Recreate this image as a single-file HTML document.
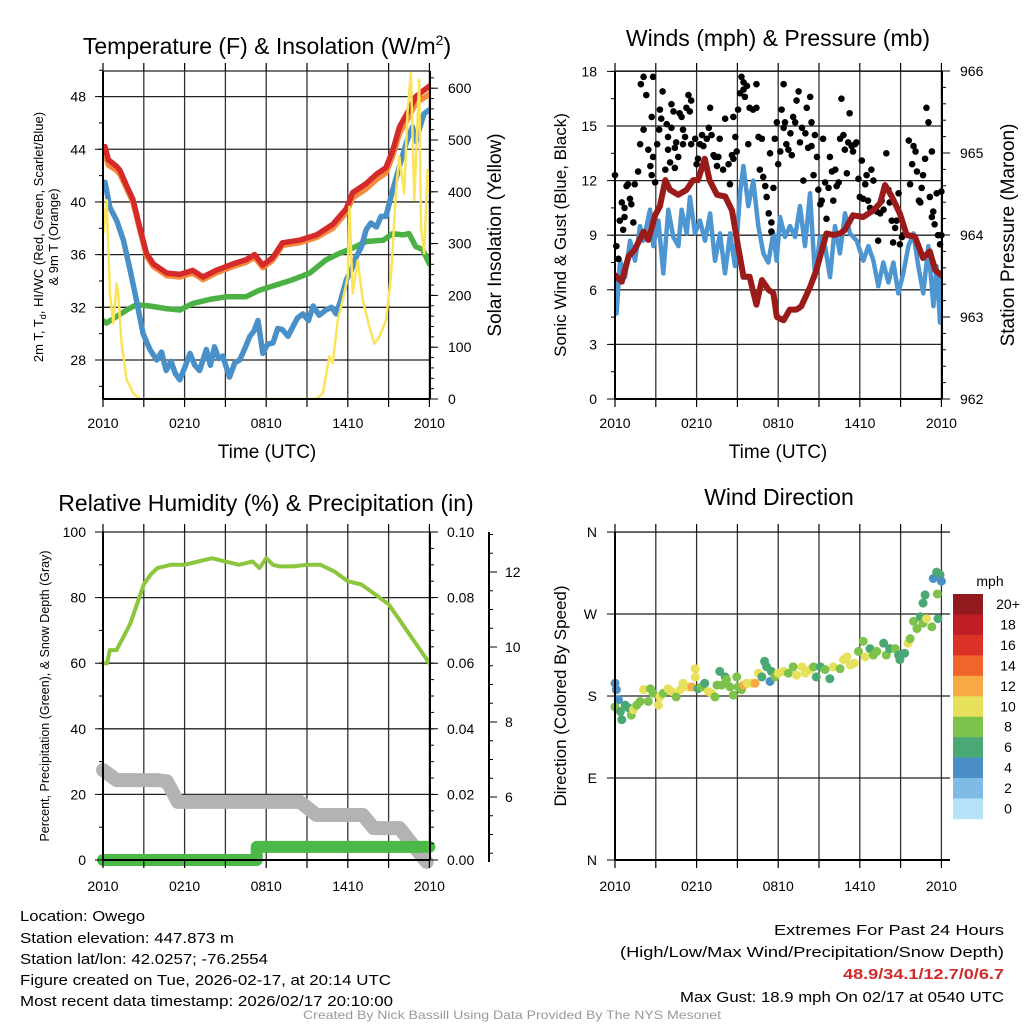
<!DOCTYPE html>
<html><head><meta charset="utf-8"><style>
html,body{margin:0;padding:0;background:#fff;}
svg{display:block;font-family:"Liberation Sans",Arial,sans-serif;}
</style></head><body>
<svg id="chart" xmlns="http://www.w3.org/2000/svg" width="1024" height="1024" viewBox="0 0 1024 1024">
<rect width="1024" height="1024" fill="#fff"/>
<defs>
<clipPath id="c1"><rect x="103" y="71" width="327" height="329"/></clipPath>
<clipPath id="c2"><rect x="615" y="71" width="328" height="329"/></clipPath>
<clipPath id="c3"><rect x="96" y="525" width="341" height="345"/></clipPath>
<clipPath id="c4"><rect x="608" y="526" width="342" height="340"/></clipPath>
</defs>
<g id="grid"></g>
<g id="series"></g>
<g id="axes"></g>

<text x="267" y="54" font-size="23" text-anchor="middle">Temperature (F) &amp; Insolation (W/m<tspan font-size="14" dy="-9">2</tspan><tspan dy="9">)</tspan></text>
<text x="778" y="46" font-size="23" text-anchor="middle">Winds (mph) &amp; Pressure (mb)</text>
<text x="266" y="511" font-size="23" text-anchor="middle">Relative Humidity (%) &amp; Precipitation (in)</text>
<text x="779" y="505" font-size="23" text-anchor="middle">Wind Direction</text>

<text x="267" y="458" font-size="19" text-anchor="middle">Time (UTC)</text>
<text x="778" y="458" font-size="19" text-anchor="middle">Time (UTC)</text>

<text transform="translate(43,237) rotate(-90)" font-size="13" text-anchor="middle">2m T, T<tspan font-size="9" dy="3">d</tspan><tspan dy="-3">, HI/WC (Red, Green, Scarlet/Blue)</tspan></text>
<text transform="translate(58,237) rotate(-90)" font-size="13" text-anchor="middle">&amp; 9m T (Orange)</text>
<text transform="translate(501,235) rotate(-90)" font-size="19" text-anchor="middle">Solar Insolation (Yellow)</text>
<text transform="translate(566,235) rotate(-90)" font-size="17" text-anchor="middle">Sonic Wind &amp; Gust (Blue, Black)</text>
<text transform="translate(1014,235) rotate(-90)" font-size="19" text-anchor="middle">Station Pressure (Maroon)</text>
<text transform="translate(49,696) rotate(-90)" font-size="12.5" text-anchor="middle">Percent, Precipitation (Green), &amp; Snow Depth (Gray)</text>
<text transform="translate(566,696) rotate(-90)" font-size="17" text-anchor="middle">Direction (Colored By Speed)</text>

<text x="990" y="586" font-size="14" text-anchor="middle">mph</text>
<g id="cbar"></g>

<g font-size="15">
<text x="20" y="921" textLength="125" lengthAdjust="spacingAndGlyphs">Location: Owego</text>
<text x="20" y="943" textLength="214" lengthAdjust="spacingAndGlyphs">Station elevation: 447.873 m</text>
<text x="20" y="964" textLength="248" lengthAdjust="spacingAndGlyphs">Station lat/lon: 42.0257; -76.2554</text>
<text x="20" y="985" textLength="371" lengthAdjust="spacingAndGlyphs">Figure created on Tue, 2026-02-17, at 20:14 UTC</text>
<text x="20" y="1006" textLength="373" lengthAdjust="spacingAndGlyphs">Most recent data timestamp: 2026/02/17 20:10:00</text>
</g>
<g font-size="15">
<text x="774" y="935" textLength="230" lengthAdjust="spacingAndGlyphs">Extremes For Past 24 Hours</text>
<text x="620" y="957" textLength="384" lengthAdjust="spacingAndGlyphs">(High/Low/Max Wind/Precipitation/Snow Depth)</text>
<text x="843" y="979" textLength="161" lengthAdjust="spacingAndGlyphs" font-weight="bold" fill="#d12a2a">48.9/34.1/12.7/0/6.7</text>
<text x="680" y="1002" textLength="324" lengthAdjust="spacingAndGlyphs">Max Gust: 18.9 mph On 02/17 at 0540 UTC</text>
</g>
<text x="303" y="1019" font-size="12" fill="#999" textLength="418" lengthAdjust="spacingAndGlyphs">Created By Nick Bassill Using Data Provided By The NYS Mesonet</text>
</svg>
<script>
// ---------- Data ----------
const xTickLabels = ["2010","0210","0810","1410","2010"];
const xTickHours = [0,6,12,18,24];
// Temperature panel
const tempTicks = [28,32,36,40,44,48];
const solarTicks = [0,100,200,300,400,500,600];
const redHours = [0,0.15,0.4,1.0,1.25,1.75,2.2,2.7,3.2,3.7,4.7,5.65,6.6,7.35,8.3,9.55,10.5,11.15,11.75,12.5,13.2,14.45,15.7,16.9,17.9,18.35,19.35,20.1,20.8,21.3,21.8,22.5,23.0,23.75,24];
const redTemp = [44.1,44.2,43.2,42.7,42.4,41.2,40.2,38.1,36.1,35.3,34.6,34.5,34.8,34.3,34.8,35.3,35.6,36.0,35.2,35.8,36.9,37.1,37.5,38.3,39.5,40.7,41.4,42.1,42.6,43.9,45.7,47.0,48.0,48.6,48.8];
const orangeTemp = [43.4,43.6,42.8,42.4,42.1,41.0,40.0,37.9,35.9,35.1,34.4,34.3,34.6,34.1,34.6,35.1,35.4,35.8,35.0,35.6,36.7,36.9,37.3,38.0,39.2,40.3,41.0,41.7,42.2,43.5,45.2,46.5,47.5,48.0,48.2];
const blueHours = [0,0.15,0.5,1.0,1.5,2.0,2.45,2.95,3.45,3.95,4.3,4.65,5.0,5.3,5.65,6.0,6.4,6.75,7.1,7.35,7.6,7.9,8.2,8.5,8.8,9.3,9.7,10.05,10.4,10.8,11.1,11.4,11.75,12.1,12.5,12.85,13.2,13.6,13.95,14.3,14.7,15.1,15.45,15.9,16.4,16.8,17.15,17.5,17.9,18.25,18.6,19.0,19.35,19.7,20.1,20.45,20.8,21.3,21.8,22.3,22.75,23.0,23.25,23.6,24];
const blueTemp = [41.2,41.5,39.6,38.6,37.1,34.8,32.6,30.0,28.8,28.0,28.6,27.2,27.9,27.0,26.5,27.4,28.5,27.6,27.2,28.0,28.8,27.6,29.0,28.1,28.3,26.7,27.8,28.0,28.8,29.8,30.2,31.0,28.5,29.2,29.3,30.4,30.3,29.8,30.5,31.2,31.5,31.0,32.1,31.4,31.8,32.0,31.5,32.6,34.1,34.8,35.8,36.6,37.9,38.4,38.1,38.9,38.9,40.9,42.7,44.5,45.7,44.6,45.5,46.7,47.0];
const greenHours = [0,0.25,1.0,1.75,2.45,3.45,4.65,5.65,6.6,7.85,9.05,10.5,11.5,12.75,13.95,15.2,16.4,17.4,18.35,19.35,20.6,21.3,22.05,22.5,23.0,23.5,24];
const greenTemp = [31.0,30.8,31.3,31.8,32.2,32.1,31.9,31.8,32.3,32.6,32.8,32.8,33.3,33.7,34.1,34.6,35.6,36.1,36.5,37.0,37.1,37.6,37.5,37.6,36.6,36.4,35.3];
const solarHours = [0,0.03,0.27,0.51,0.76,1.0,1.12,1.37,1.74,2.22,2.71,15.67,16.16,16.65,16.89,17.26,17.63,17.99,18.12,18.36,18.73,19.1,19.58,19.95,20.32,20.81,21.17,21.54,21.78,22.15,22.4,22.64,22.89,23.25,23.38,23.62,23.86,24];
const solarVals = [384,320,384,204,146,223,204,107,37,11,0,0,11,82,69,152,191,236,371,204,268,191,140,107,120,152,236,397,469,397,558,629,384,616,333,281,442,397];
// Wind panel
const windTicks = [0,3,6,9,12,15,18];
const pressTicks = [962,963,964,965,966];
const sonicHours = [0,0.12,0.37,0.74,1.1,1.47,1.84,2.08,2.57,2.82,3.19,3.55,3.92,4.29,4.66,4.9,5.27,5.51,5.88,6.25,6.62,6.99,7.35,7.72,8.09,8.46,8.82,9.19,9.44,9.8,10.17,10.54,10.91,11.27,11.64,11.89,12.13,12.5,12.87,13.24,13.6,13.97,14.34,14.71,15.07,15.44,15.81,16.18,16.54,16.91,17.28,17.77,18.26,18.63,19.0,19.36,19.73,20.1,20.47,20.83,21.2,21.57,21.94,22.3,22.67,23.04,23.41,23.65,23.9,24];
const sonicVals = [6.7,4.7,7.6,6.7,8.7,7.6,9.5,8.7,10.4,8.4,9.8,6.9,10.4,8.9,8.4,10.4,9.1,11.1,9.1,9.8,8.7,10.2,7.6,9.1,6.9,9.1,7.3,11.3,12.8,10.6,12.0,9.5,8.0,7.5,9.1,7.6,10.0,8.9,9.5,8.9,10.6,8.4,11.3,6.7,8.9,8.4,6.7,9.5,8.0,10.2,9.1,8.7,7.6,8.4,7.6,6.2,7.5,6.4,7.5,5.8,6.9,8.4,9.1,7.3,5.8,8.4,5.1,7.3,4.2,6.7];
const pressHours = [0,0.5,1.0,1.45,2.1,2.45,2.95,3.3,3.7,4.05,4.65,5.25,5.75,6.1,6.6,6.95,7.5,8.1,8.6,9.05,9.45,9.9,10.4,10.8,11.3,11.65,11.9,12.4,12.85,13.35,13.7,14.35,14.8,15.55,16.05,16.55,16.9,17.5,18.25,19.0,19.5,19.85,20.35,20.95,21.45,22.05,22.65,23.15,23.55,24];
const pressVals = [963.51,963.43,963.74,963.82,964.04,963.94,964.24,964.35,964.67,964.55,964.49,964.55,964.67,964.67,964.93,964.67,964.49,964.47,964.30,963.86,963.49,963.49,963.15,963.45,963.33,963.29,963.0,962.96,963.09,963.09,963.13,963.37,963.57,964.02,964.0,964.02,964.06,964.24,964.22,964.30,964.39,964.61,964.47,964.26,964.0,963.98,963.72,963.8,963.57,963.51];
const gustHours = [0,0.1,0.25,0.35,0.5,0.6,0.7,0.7,0.85,0.95,1.1,1.2,1.35,1.45,1.7,1.85,1.9,2.1,2.1,2.3,2.45,2.6,2.7,2.7,2.8,2.8,2.95,3.1,3.25,3.3,3.4,3.5,3.7,3.8,3.9,3.9,4.05,4.15,4.15,4.3,4.4,4.4,4.5,4.65,4.75,4.9,5.0,5.0,5.15,5.25,5.4,5.5,5.6,5.6,5.9,6.0,6.1,6.25,6.4,6.5,6.75,6.9,7.0,7.1,7.25,7.35,7.5,7.6,7.7,7.95,8.1,8.35,8.45,8.6,8.7,8.7,8.85,8.95,9.05,9.2,9.3,9.45,9.45,9.55,9.7,9.8,9.9,10.15,10.4,10.4,10.55,10.65,10.8,10.9,11.05,11.15,11.3,11.4,11.5,11.5,11.65,11.75,11.9,12.0,12.15,12.25,12.4,12.4,12.5,12.6,12.75,12.9,13.0,13.1,13.25,13.35,13.5,13.6,13.75,13.85,14.0,14.1,14.2,14.35,14.45,14.45,14.6,14.7,14.85,14.95,15.1,15.2,15.3,15.45,15.55,15.7,15.8,15.95,16.05,16.2,16.3,16.45,16.55,16.65,16.8,16.9,17.05,17.15,17.25,17.4,17.5,17.65,17.75,17.9,18.0,18.15,18.25,18.4,18.5,18.6,18.75,18.85,19.0,19.25,19.35,19.5,19.6,19.75,19.95,20.1,20.2,20.35,20.45,20.6,20.7,20.85,20.95,21.1,21.2,21.6,21.7,21.85,21.95,22.1,22.2,22.35,22.45,22.55,22.65,22.8,22.9,23.05,23.15,23.3,23.3,23.4,23.5,23.65,23.75,23.9,24.0,24.0];
const gustVals = [12.3,8.4,7.7,9.8,10.8,9.3,10.0,10.5,11.7,11.8,11.0,10.7,9.7,11.8,12.5,14.0,17.3,17.7,14.8,16.7,13.7,12.8,12.3,15.5,17.7,13.3,11.9,14.0,14.8,15.9,15.4,16.9,12.6,15.1,13.7,14.4,13.0,16.2,14.9,15.8,12.7,13.8,14.1,13.3,15.7,15.5,14.8,14.0,14.4,16.0,16.7,15.8,16.4,14.0,14.3,12.9,13.2,14.0,14.5,13.9,14.3,14.9,16.0,14.5,13.4,13.3,12.8,13.3,14.3,12.6,15.4,12.9,11.8,13.4,13.2,15.5,14.4,13.6,15.9,16.8,17.7,17.4,17.0,16.6,17.2,14.0,16.0,15.9,17.3,16.0,14.4,12.6,14.3,12.2,11.7,11.1,10.2,13.5,9.7,9.2,11.6,14.3,15.2,12.9,13.6,15.9,17.3,14.9,15.2,14.0,13.7,14.6,13.4,15.5,15.2,16.4,16.9,14.1,14.9,12.0,14.6,16.0,13.8,16.6,15.2,13.9,12.3,14.5,13.3,11.5,10.7,10.9,14.3,11.9,9.9,11.6,13.3,12.5,10.9,12.6,11.7,11.9,14.3,16.5,14.5,13.7,12.4,14.1,15.7,13.9,13.6,14.0,14.1,12.1,11.1,13.1,11.0,11.8,12.3,10.9,10.5,12.6,12.0,10.3,8.7,10.2,10.9,10.4,13.5,11.5,10.8,9.8,8.6,9.4,9.8,11.3,8.5,8.9,9.0,14.2,11.8,12.9,13.9,13.6,12.5,10.9,10.8,11.6,12.3,13.2,16.0,15.2,11.1,13.6,10.0,10.3,9.6,11.3,9.0,8.5,9.0,11.4];
// Humidity panel
const rhTicks = [0,20,40,60,80,100];
const precipTicks = [0,0.02,0.04,0.06,0.08,0.10];
const snowTicks = [6,8,10,12];
const rhHours = [0,0.3,0.5,1,1.5,2,2.5,3,3.5,4,5,6,7,8,9,10,11,11.5,12,12.5,13,14,15,16,17,18,19,20,21,22,23,24];
const rhVals = [60,60,64,64,68,72,78,84,87,89,90,90,91,92,91,90,91,89,92,90,89.5,89.5,90,90,88,85,84,81,78,72,66,60];
const precipHours = [0,11.3,11.3,24];
const precipVals = [0,0,0.004,0.004];
const snowHours = [0,1.0,4.0,4.7,5.5,14.5,15.7,19.1,19.9,21.8,22.9,23.8];
const snowVals = [6.72,6.45,6.45,6.42,5.87,5.87,5.52,5.52,5.17,5.17,4.67,4.27];
// Direction panel
const dirTickLabels = ["N","E","S","W","N"];
const dirTicks = [0,90,180,270,360];
const dirHours = [0,0.1,0.25,0,0.4,0.5,0.75,1.0,1.2,1.35,1.6,1.85,2.1,2.45,2.6,2.8,3.2,3.3,3.55,3.9,4.15,4.5,4.8,5.0,5.4,5.65,5.9,5.9,6.1,6.35,6.6,6.85,7.1,7.35,7.5,7.7,7.85,8.1,8.2,8.45,8.7,8.95,9.05,9.3,9.45,9.7,10.05,10.3,10.55,10.8,11.0,11.15,11.4,11.5,11.75,12.0,12.4,12.75,13.1,13.35,13.75,14.0,14.35,14.6,14.8,15.1,15.45,15.8,16.05,16.55,16.8,17.05,17.3,17.6,17.9,18.25,18.4,18.75,19.0,19.25,19.75,19.95,20.2,20.6,20.85,20.95,21.3,21.55,21.7,21.95,22.2,22.45,22.65,22.9,23.3,22.8,22.65,23.4,23.65,23.75,23.7,23.9,24.0];
const dirVals = [194,187,176,168,163,154,170,167,159,165,170,174,187,174,188,183,170,179,183,188,185,179,187,194,190,190,210,201,188,190,194,185,183,179,192,207,192,201,198,190,181,201,190,187,192,194,194,194,205,201,218,212,196,207,201,205,207,205,212,203,212,205,209,212,201,212,209,199,212,210,220,223,214,216,229,240,223,232,225,229,238,225,232,232,225,220,227,238,243,262,254,267,260,265,256,291,282,309,316,265,292,313,306];
const dirSpeed = [4,4,4,8,6,6,6,6,8,10,8,8,10,8,8,8,10,10,8,10,10,8,10,10,10,12,10,10,6,8,6,10,10,8,8,6,8,6,8,8,8,8,8,8,12,10,10,12,10,6,6,6,4,6,8,10,10,8,8,10,10,10,10,8,6,6,8,6,10,8,10,10,10,10,8,8,10,6,8,8,6,8,6,8,6,6,6,10,8,8,8,6,8,10,8,6,6,4,6,6,8,6,4];
const cbarLabels = ["20+","18","16","14","12","10","8","6","4","2","0"];
const cbarColors = ["#921a1c","#be1e24","#dc3127","#f0652a","#f6a945","#e6e05a","#7dc24b","#4aa874","#4a8fc8","#7fbbe5","#b7e3f8"];

// ---------- Scales ----------
const NS="http://www.w3.org/2000/svg";
function mk(tag, attrs, parent){const e=document.createElementNS(NS,tag);for(const k in attrs)e.setAttribute(k,attrs[k]);(parent||document.getElementById('series')).appendChild(e);return e;}
const xL=h=>103+h*13.6, xR=h=>615+h*13.6;
const yT=t=>360-(t-28)*13.17, yS=w=>399-w*0.518;
const yW=v=>399-v*18.2, yP=p=>399-(p-962)*82;
const yRH=v=>860-v*3.28, yPr=v=>860-v*3280, ySd=d=>797-(d-6)*37.5;
const yD=d=>860-d*0.911;
function pathOf(hs,vs,fx,fy){return hs.map((h,i)=>(i?'L':'M')+fx(h).toFixed(1)+' '+fy(vs[i]).toFixed(1)).join(' ');}
function speedColor(s){const idx=Math.max(0,Math.min(10,10-Math.floor(s/2)));return cbarColors[idx];}

const G=document.getElementById('grid'), A=document.getElementById('axes'), S=document.getElementById('series');
// ---------- Grids ----------
function vgrid(x0,y0,y1,name){for(let k=0;k<=8;k++){const x=x0+k*3*13.6;
 const l=mk('line',{x1:x,x2:x,y1:y0,y2:y1,stroke:'#333','stroke-width':1.3},G);
 
 
 const t=mk('line',{x1:x,x2:x,y1:y0,y2:y0-8,stroke:'#000','stroke-width':1.2},A);
 
 
 const b=mk('line',{x1:x,x2:x,y1:y1,y2:y1+8,stroke:'#000','stroke-width':1.2},A);
 
 }}
function hgrid(x0,x1,ys,name){ys.forEach(y=>{const l=mk('line',{x1:x0,x2:x1,y1:y,y2:y,stroke:'#222','stroke-width':1.3},G);
 
 });}
vgrid(103,71,399,'temperature'); vgrid(615,71,399,'wind'); vgrid(103,532,860,'humidity'); vgrid(615,532,860,'direction');
hgrid(103,430,tempTicks.map(yT).concat([71]),'temperature');
hgrid(615,943,windTicks.filter(v=>v>0).map(yW).concat([71]),'wind');
hgrid(103,430,rhTicks.filter(v=>v>0).map(yRH),'humidity');
hgrid(615,950,dirTicks.map(yD),'direction');

// ---------- Axes ----------
function axisLine(x1,y1,x2,y2,name){const l=mk('line',{x1,y1,x2,y2,stroke:'#000','stroke-width':2},A);
 
 }
function label(x,y,txt,anchor,name,size){const t=mk('text',{x,y,'font-size':size||14,'text-anchor':anchor},A);t.textContent=txt;
 
 }
function ticks(x,vals,fy,dir,len,name){vals.forEach(v=>{const y=fy(v);const t=mk('line',{x1:x,x2:x+dir*len,y1:y,y2:y,stroke:'#000','stroke-width':1},A);
 
 });}
function range(a,b,s){const r=[];for(let v=a;v<=b+1e-9;v+=s)r.push(v);return r;}
// Panel 1
axisLine(103,71,103,399,'temperature-left-axis'); axisLine(430,71,430,399,'solar-right-axis'); axisLine(103,399,430,399,'temperature-x-axis');
ticks(103,range(26,50,2),yT,-1,4,'temperature-minor-tick'); ticks(103,tempTicks,yT,-1,8,'temperature-major-tick');
ticks(430,range(0,620,20),yS,1,4,'solar-minor-tick'); ticks(430,solarTicks,yS,1,8,'solar-major-tick');
tempTicks.forEach(v=>label(86,yT(v)+5,String(v),'end','temperature-tick-label',14));
solarTicks.forEach(v=>label(448,yS(v)+5,String(v),'start','solar-tick-label',14));
xTickHours.forEach((h,i)=>label(xL(h),428,xTickLabels[i],'middle','temperature-x-tick-label',14));
// Panel 2
axisLine(615,71,615,399,'wind-left-axis'); axisLine(942,71,942,399,'pressure-right-axis'); axisLine(615,399,942,399,'wind-x-axis');
ticks(615,range(0,18,1.5),yW,-1,4,'wind-minor-tick'); ticks(615,windTicks,yW,-1,8,'wind-major-tick');
ticks(942,range(962,966,0.2),yP,1,4,'pressure-minor-tick'); ticks(942,pressTicks,yP,1,8,'pressure-major-tick');
windTicks.forEach(v=>label(597,yW(v)+5,String(v),'end','wind-tick-label',14));
pressTicks.forEach(v=>label(960,yP(v)+5,String(v),'start','pressure-tick-label',14));
xTickHours.forEach((h,i)=>label(xR(h),428,xTickLabels[i],'middle','wind-x-tick-label',14));
// Panel 3
axisLine(103,532,103,860,'humidity-left-axis'); axisLine(430,532,430,860,'precip-axis'); axisLine(103,860,430,860,'humidity-x-axis');
axisLine(489,532,489,862,'snow-depth-axis');
ticks(103,range(0,100,10),yRH,-1,4,'humidity-minor-tick'); ticks(103,rhTicks,yRH,-1,8,'humidity-major-tick');
ticks(430,range(0,0.1,0.005),yPr,1,4,'precip-minor-tick'); ticks(430,precipTicks,yPr,1,8,'precip-major-tick');
ticks(489,range(4.5,13,0.5),ySd,1,4,'snow-minor-tick'); ticks(489,snowTicks,ySd,1,8,'snow-major-tick');
rhTicks.forEach(v=>label(86,yRH(v)+5,String(v),'end','humidity-tick-label',14));
precipTicks.forEach(v=>label(447,yPr(v)+5,v.toFixed(2),'start','precip-tick-label',14));
snowTicks.forEach(v=>label(505,ySd(v)+5,String(v),'start','snow-tick-label',14));
xTickHours.forEach((h,i)=>label(xL(h),891,xTickLabels[i],'middle','humidity-x-tick-label',14));
// Panel 4
axisLine(615,532,615,860,'direction-left-axis'); axisLine(615,860,950,860,'direction-x-axis');
ticks(615,dirTicks,yD,-1,8,'direction-major-tick');
dirTicks.forEach((v,i)=>label(597,yD(v)+5,dirTickLabels[i],'end','direction-tick-label',14));
xTickHours.forEach((h,i)=>label(xR(h),891,xTickLabels[i],'middle','direction-x-tick-label',14));

// ---------- Series ----------
function line(hs,vs,fx,fy,color,w,clip,name){const p=mk('path',{d:pathOf(hs,vs,fx,fy),fill:'none',stroke:color,'stroke-width':w,'stroke-linejoin':'round','stroke-linecap':'round','clip-path':'url(#'+clip+')'},S);
 
 }
line(greenHours,greenTemp,xL,yT,'#4cb144',5.5,'c1','heat-index-line');
line(blueHours,blueTemp,xL,yT,'#4a90c8',5.5,'c1','dewpoint-line');
line(redHours,orangeTemp,xL,yT,'#f6893a',5.5,'c1','9m-temperature-line');
line(redHours,redTemp,xL,yT,'#d42a2a',5.5,'c1','2m-temperature-line');
line(solarHours,solarVals,xL,yS,'#fbe35a',2.5,'c1','solar-insolation-line');

line(sonicHours,sonicVals,xR,yW,'#4d96d1',4.5,'c2','sonic-wind-line');
gustHours.forEach((h,i)=>{const c=mk('circle',{cx:xR(h),cy:yW(gustVals[i]),r:3.3,fill:'#000'},S);
 
 });
line(pressHours,pressVals,xR,yP,'#9b1b1b',6,'c2','pressure-line');

line(snowHours,snowVals,xL,ySd,'#b3b3b3',14,'c3','snow-depth-line');
line(precipHours,precipVals,xL,yPr,'#4cb848',12,'c3','precipitation-line');
line(rhHours,rhVals,xL,yRH,'#8cc63f',4,'c3','relative-humidity-line');

dirHours.forEach((h,i)=>{const c=mk('circle',{cx:xR(h),cy:yD(dirVals[i]),r:4.5,fill:speedColor(dirSpeed[i]),'clip-path':'url(#c4)'},S);
 
 });

// ---------- Colorbar ----------
const CB=document.getElementById('cbar');
cbarColors.forEach((col,i)=>{const r=mk('rect',{x:953,y:594+i*20.45,width:30,height:20.7,fill:col},CB);
 
 
 const t=mk('text',{x:1008,y:594+i*20.45+15,'font-size':14,'text-anchor':'middle'},CB);t.textContent=cbarLabels[i];
 
 });
</script>
</body></html>
